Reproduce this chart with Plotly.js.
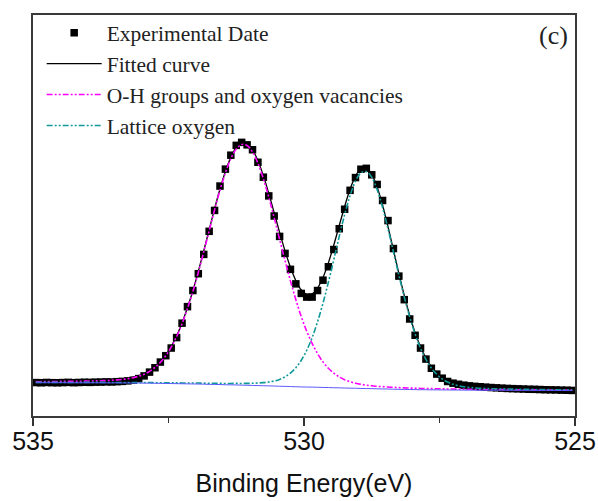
<!DOCTYPE html>
<html>
<head>
<meta charset="utf-8">
<script src="https://cdn.plot.ly/plotly-3.0.1.min.js"></script>
<style>html,body{margin:0;padding:0;background:#fff;}#chart{width:598px;height:501px;}</style>
</head>
<body>
<div id="chart"></div>
<script>
// Binding energy (eV)
var energy = [534.95,534.85,534.75,534.65,534.55,534.45,534.35,534.25,534.15,534.05,
533.95,533.85,533.75,533.65,533.55,533.45,533.35,533.25,533.15,533.05,
532.95,532.85,532.75,532.65,532.55,532.45,532.35,532.25,532.15,532.05,
531.95,531.85,531.75,531.65,531.55,531.45,531.35,531.25,531.15,531.05,
530.95,530.85,530.75,530.65,530.55,530.45,530.35,530.25,530.15,530.05,
529.95,529.85,529.75,529.65,529.55,529.45,529.35,529.25,529.15,529.05,
528.95,528.85,528.75,528.65,528.55,528.45,528.35,528.25,528.15,528.05,
527.95,527.85,527.75,527.65,527.55,527.45,527.35,527.25,527.15,527.05,
526.95,526.85,526.75,526.65,526.55,526.45,526.35,526.25,526.15,526.05,
525.95,525.85,525.75,525.65,525.55,525.45,525.35,525.25,525.15,525.05];

// Experimental data (a.u.)
var experimental = [33.6,33.4,33.7,33.5,33.4,33.6,33.8,33.5,33.7,33.9,
33.8,34.0,34.1,34.3,34.2,34.5,34.8,35.3,36.0,37.6,
40.3,44.1,48.5,54.2,60.6,68.3,78.8,93.3,109.9,126.1,
143.0,162.4,185.6,206.6,231.1,248.1,262.1,272.0,275.0,272.5,
267.6,255.0,240.0,221.2,201.0,180.5,163.4,147.4,132.8,123.2,
119.5,119.5,126.1,136.5,150.0,167.3,188.2,207.8,226.8,239.6,
248.0,248.9,242.4,232.7,216.6,196.4,168.3,140.6,116.9,97.5,
81.1,68.3,57.2,48.0,42.1,38.0,34.7,33.0,31.9,31.0,
30.3,29.8,29.4,29.0,28.6,28.3,28.0,27.7,27.5,27.3,
27.1,26.9,26.8,26.6,26.4,26.3,26.2,26.0,25.9,25.7];

// Fitted envelope
var fitted = [34.7,34.8,34.9,34.9,35.0,35.1,35.1,35.2,35.3,35.4,
35.5,35.7,35.9,36.0,36.3,36.8,37.2,38.0,39.0,40.5,
42.6,45.5,49.4,54.5,61.3,69.9,80.6,93.5,109.0,125.9,
145.3,165.9,187.1,208.3,228.1,245.7,259.9,269.9,274.5,273.8,
267.6,256.6,241.5,223.7,204.3,184.5,165.9,149.4,136.0,126.6,
122.1,122.7,128.5,139.1,153.9,171.8,191.4,210.6,227.9,241.1,
248.5,249.1,242.8,229.8,211.9,190.2,166.9,143.4,121.2,101.1,
83.8,69.5,58.2,49.4,43.0,38.3,35.1,32.8,31.3,30.3,
29.6,29.1,28.7,28.4,28.2,28.1,27.9,27.8,27.6,27.5,
27.4,27.3,27.2,27.2,27.1,26.9,26.9,26.8,26.8,26.7];

// O-H groups and oxygen vacancies component
var ohComponent = [34.5,34.5,34.6,34.7,34.7,34.8,34.8,34.9,34.9,35.1,
35.2,35.3,35.5,35.6,35.9,36.3,36.8,37.5,38.5,40.0,
42.0,44.9,48.8,53.9,60.6,69.2,79.8,92.7,108.1,125.1,
144.3,164.9,186.0,207.1,226.9,244.4,258.5,268.3,272.8,271.9,
265.4,254.0,238.4,219.8,199.2,177.6,156.3,135.8,116.9,99.9,
85.2,72.9,62.7,54.4,48.0,43.0,39.3,36.4,34.4,32.9,
31.8,31.0,30.4,29.8,29.5,29.1,28.8,28.5,28.3,28.1,
27.9,27.7,27.7,27.5,27.4,27.3,27.2,27.1,27.0,26.9,
26.9,26.8,26.7,26.6,26.6,26.6,26.6,26.5,26.4,26.4,
26.4,26.3,26.3,26.3,26.3,26.2,26.2,26.1,26.1,26.1];

// Lattice oxygen component
var latticeComponent = [33.8,33.8,33.8,33.8,33.8,33.8,33.7,33.7,33.7,33.8,
33.8,33.8,33.8,33.7,33.7,33.7,33.7,33.7,33.6,33.6,
33.6,33.6,33.5,33.4,33.4,33.3,33.3,33.2,33.1,33.1,
33.1,33.0,32.9,32.9,32.8,32.7,32.7,32.8,32.7,32.8,
32.9,33.2,33.5,34.2,35.2,36.8,39.4,43.2,48.5,56.0,
66.0,78.8,94.7,113.3,134.5,157.2,180.4,202.3,221.5,236.1,
244.4,245.7,239.9,227.3,209.6,188.2,165.0,141.7,119.6,99.6,
82.4,68.1,56.9,48.2,41.9,37.2,34.1,31.8,30.4,29.4,
28.7,28.3,27.9,27.7,27.5,27.4,27.3,27.2,27.0,26.9,
26.8,26.8,26.7,26.7,26.6,26.5,26.4,26.4,26.4,26.3];

// Background
var background = [33.5,33.5,33.5,33.5,33.5,33.5,33.4,33.4,33.4,33.4,
33.4,33.4,33.4,33.3,33.3,33.3,33.2,33.2,33.1,33.1,
33.0,33.0,32.9,32.8,32.7,32.6,32.5,32.4,32.3,32.2,
32.1,32.0,31.8,31.7,31.6,31.4,31.3,31.2,31.0,30.9,
30.7,30.6,30.4,30.3,30.1,29.9,29.8,29.6,29.4,29.2,
29.1,29.0,28.9,28.7,28.6,28.4,28.3,28.1,28.0,27.9,
27.7,27.6,27.5,27.3,27.2,27.1,26.9,26.8,26.7,26.6,
26.5,26.4,26.4,26.3,26.3,26.2,26.2,26.1,26.1,26.0,
26.0,26.0,25.9,25.9,25.9,25.9,25.9,25.9,25.8,25.8,
25.8,25.8,25.8,25.8,25.8,25.7,25.7,25.7,25.7,25.7];

var seriesNames = ['Experimental Date', 'Fitted curve', 'O-H groups and oxygen vacancies', 'Lattice oxygen'];
var panelLabel = '(c)';
var xTitle = 'Binding Energy(eV)';

var dashDotDot = '6px,2px,2px,2px,2px,2px';

var traces = [
  {x: energy, y: experimental, type: 'scatter', mode: 'markers', name: seriesNames[0],
   marker: {symbol: 'square', size: 7.5, color: '#000000', line: {width: 0}}},
  {x: energy, y: fitted, type: 'scatter', mode: 'lines', name: seriesNames[1],
   line: {color: '#000000', width: 1.3, shape: 'spline'}},
  {x: energy, y: ohComponent, type: 'scatter', mode: 'lines', name: seriesNames[2],
   line: {color: '#FF00FF', width: 1.6, dash: dashDotDot, shape: 'spline'}},
  {x: energy, y: latticeComponent, type: 'scatter', mode: 'lines', name: seriesNames[3],
   line: {color: '#119999', width: 1.6, dash: dashDotDot, shape: 'spline'}},
  {x: energy, y: background, type: 'scatter', mode: 'lines', showlegend: false,
   line: {color: 'rgb(90,90,255)', width: 1, shape: 'spline'}}
];

var layout = {
  width: 598, height: 501,
  margin: {l: 33, r: 23, t: 13, b: 85},
  paper_bgcolor: '#ffffff', plot_bgcolor: '#ffffff',
  showlegend: true,
  legend: {
    x: 0.016, y: 1.007, xanchor: 'left', yanchor: 'top',
    bgcolor: 'rgba(0,0,0,0)', borderwidth: 0,
    itemwidth: 55,
    font: {family: 'Liberation Serif, Times New Roman, serif', size: 21.5, color: '#222222'}
  },
  xaxis: {
    range: [535, 525], autorange: false,
    tickmode: 'linear', tick0: 525, dtick: 5,
    ticks: 'outside', ticklen: 8, tickwidth: 1.5, tickcolor: '#333333',
    ticklabelstandoff: -6,
    minor: {dtick: 2.5, tick0: 525, ticks: 'outside', ticklen: 5, tickwidth: 1.5, tickcolor: '#333333'},
    showline: true, linecolor: '#3a3a3a', linewidth: 2, mirror: true,
    showgrid: false, zeroline: false,
    tickfont: {family: 'Liberation Sans, Arial, sans-serif', size: 25, color: '#111111'},
    title: {text: xTitle, font: {family: 'Liberation Sans, Arial, sans-serif', size: 25, color: '#111111'}, standoff: 20}
  },
  yaxis: {
    range: [0, 403], autorange: false,
    showline: true, linecolor: '#3a3a3a', linewidth: 2, mirror: true,
    ticks: '', showticklabels: false, showgrid: false, zeroline: false
  },
  annotations: [{
    text: panelLabel, xref: 'paper', yref: 'paper', x: 0.96, y: 0.95,
    xanchor: 'center', yanchor: 'middle', showarrow: false,
    font: {family: 'Liberation Serif, Times New Roman, serif', size: 26, color: '#222222'}
  }]
};

Plotly.newPlot('chart', traces, layout, {displayModeBar: false, staticPlot: true});
</script>
</body>
</html>
